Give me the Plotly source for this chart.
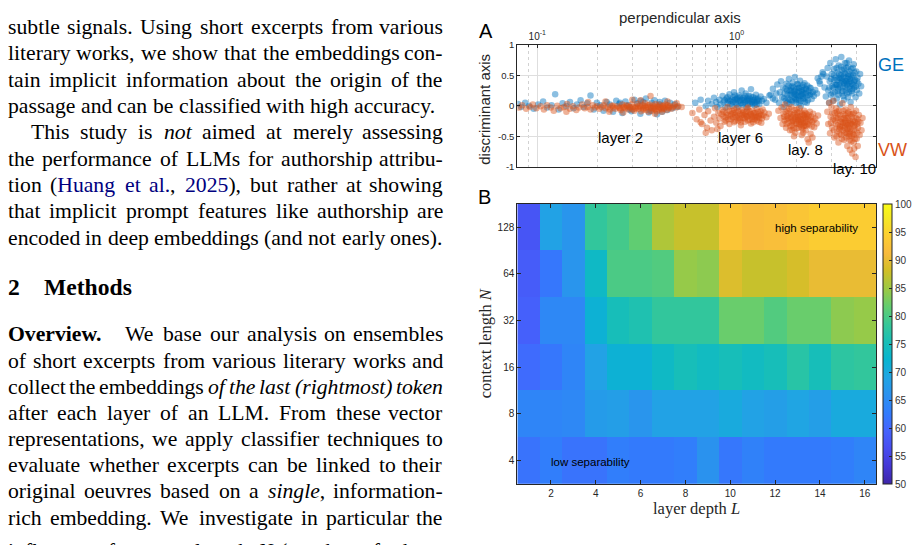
import re
import plotly.graph_objects as go

W, H = 920, 545
OFF = 8  # the page body adds an 8 px margin around the figure

# ---------------------------------------------------------------
# Panel A: last-token embeddings projected on (perpendicular, discriminant)
# axes, GE vs VW excerpts, points as (x, y)
# ---------------------------------------------------------------
ge_layer2 = [
    (0.080, 0.03), (0.083, -0.02), (0.087, 0.05), (0.091, 0.00), (0.096, -0.05), (0.101, 0.02),
    (0.107, 0.07), (0.112, -0.03), (0.118, 0.01), (0.123, 0.19), (0.128, -0.06), (0.134, 0.04),
    (0.140, -0.01), (0.146, 0.06), (0.152, -0.04), (0.158, 0.02), (0.165, 0.09), (0.171, -0.02),
    (0.178, 0.04), (0.185, 0.17), (0.192, -0.06), (0.199, 0.05), (0.207, 0.01), (0.215, -0.08),
    (0.223, 0.06), (0.231, 0.02), (0.240, -0.10), (0.249, 0.08), (0.258, 0.03), (0.267, -0.12),
    (0.277, 0.07), (0.287, 0.01), (0.297, -0.09), (0.307, 0.10), (0.318, 0.04), (0.329, -0.13),
    (0.340, 0.06), (0.351, 0.12), (0.363, -0.11), (0.375, 0.05), (0.387, 0.09), (0.399, -0.14),
    (0.411, 0.06), (0.424, -0.10), (0.437, 0.08), (0.450, -0.07), (0.463, 0.05), (0.477, -0.04),
    (0.490, 0.03), (0.505, -0.02), (0.26, 0.05), (0.33, 0.08), (0.41, 0.02), (0.29, -0.06),
    (0.37, -0.08),
]
vw_layer2 = [
    (0.081, -0.03), (0.084, 0.01), (0.088, -0.05), (0.092, -0.02), (0.095, 0.02), (0.099, -0.04),
    (0.104, -0.01), (0.108, -0.06), (0.112, 0.01), (0.117, -0.03), (0.121, -0.08), (0.126, 0.00),
    (0.131, -0.04), (0.136, -0.02), (0.141, 0.03), (0.146, -0.05), (0.151, -0.01), (0.157, -0.07),
    (0.162, -0.03), (0.168, 0.02), (0.173, -0.04), (0.179, -0.02), (0.185, -0.06), (0.190, 0.01),
    (0.195, -0.03), (0.200, -0.01), (0.205, -0.05), (0.210, -0.02), (0.215, 0.01), (0.220, -0.04),
    (0.226, -0.02), (0.231, -0.06), (0.236, 0.00), (0.241, -0.03), (0.246, -0.05), (0.252, -0.01),
    (0.257, -0.03), (0.262, -0.07), (0.267, 0.02), (0.272, -0.02), (0.277, -0.04), (0.282, -0.01),
    (0.287, -0.06), (0.292, -0.03), (0.297, 0.02), (0.302, -0.02), (0.307, -0.08), (0.312, -0.03),
    (0.317, 0.03), (0.322, -0.05), (0.327, -0.01), (0.332, -0.09), (0.337, 0.01), (0.342, -0.04),
    (0.347, 0.04), (0.352, -0.07), (0.357, -0.02), (0.362, -0.10), (0.367, 0.02), (0.372, -0.04),
    (0.377, -0.08), (0.382, 0.00), (0.387, -0.05), (0.392, 0.03), (0.397, -0.09), (0.402, -0.02),
    (0.407, -0.06), (0.412, 0.02), (0.417, -0.04), (0.422, -0.10), (0.428, 0.00), (0.433, -0.05),
    (0.439, -0.02), (0.445, -0.07), (0.451, 0.01), (0.457, -0.04), (0.463, -0.01), (0.470, -0.05),
    (0.478, -0.02), (0.487, 0.01), (0.497, -0.03), (0.510, -0.01),
    (0.24, 0.00), (0.26, -0.04), (0.28, 0.01), (0.30, -0.06), (0.32, -0.01), (0.34, -0.06),
    (0.36, 0.01), (0.38, -0.04), (0.40, 0.00), (0.42, -0.06), (0.44, 0.02), (0.29, -0.02),
    (0.33, -0.03), (0.37, -0.02), (0.41, -0.03), (0.35, -0.03), (0.39, -0.06), (0.43, -0.03),
    (0.31, -0.05), (0.345, 0.00), (0.385, -0.02), (0.425, -0.01), (0.27, -0.03), (0.455, -0.02),
    (0.37, 0.16), (0.30, 0.10), (0.22, 0.07), (0.45, 0.07), (0.27, -0.11), (0.39, -0.13),
    (0.18, 0.06), (0.14, -0.10), (0.50, 0.04), (0.33, 0.09), (0.53, -0.02), (0.23, -0.10),
]
ge_layer6 = [
    (0.62, 0.05), (0.66, 0.10), (0.70, -0.01), (0.72, 0.08), (0.75, 0.03), (0.77, 0.13),
    (0.79, 0.06), (0.80, -0.02), (0.82, 0.10), (0.83, 0.02), (0.85, 0.16), (0.86, 0.06),
    (0.88, -0.03), (0.89, 0.12), (0.90, 0.04), (0.92, 0.19), (0.93, 0.08), (0.95, 0.00),
    (0.96, 0.14), (0.97, 0.22), (0.99, 0.05), (1.00, 0.11), (1.02, -0.02), (1.03, 0.17),
    (1.04, 0.08), (1.06, 0.25), (1.07, 0.02), (1.08, 0.13), (1.10, 0.06), (1.11, 0.20),
    (1.12, -0.03), (1.14, 0.10), (1.15, 0.16), (1.17, 0.04), (1.18, 0.27), (1.20, 0.09),
    (1.21, 0.14), (1.23, 0.01), (1.25, 0.18), (1.26, 0.07), (1.28, 0.12), (1.30, 0.03),
    (1.32, 0.15), (1.34, 0.08), (1.37, 0.11), (1.41, 0.05), (1.46, 0.17), (1.52, 0.12),
    (1.58, 0.20), (0.98, 0.10), (1.05, 0.04), (1.13, 0.12), (0.91, 0.09), (1.19, 0.06),
    (1.27, 0.10),
    (0.87, 0.09), (0.90, 0.14), (0.93, 0.03), (0.95, 0.10), (0.98, 0.17), (1.00, 0.02),
    (1.02, 0.08), (1.04, 0.14), (1.06, 0.10), (1.08, 0.04), (1.10, 0.16), (1.12, 0.08),
    (1.14, 0.02), (1.16, 0.12), (1.18, 0.15), (1.20, 0.03), (1.22, 0.09), (1.24, 0.12),
    (1.26, 0.02), (1.29, 0.08), (0.96, 0.06), (1.01, 0.13), (1.09, 0.10), (1.15, 0.07),
    (1.23, 0.05),
]
vw_layer6 = [
    (0.60, -0.12), (0.63, -0.22), (0.65, -0.06), (0.67, -0.30), (0.69, -0.15), (0.71, -0.36),
    (0.72, -0.09), (0.74, -0.24), (0.75, -0.40), (0.77, -0.18), (0.78, -0.04), (0.79, -0.28),
    (0.81, -0.12), (0.82, -0.21), (0.83, -0.33), (0.85, -0.07), (0.86, -0.17), (0.87, -0.26),
    (0.89, -0.12), (0.90, -0.02), (0.91, -0.22), (0.92, -0.30), (0.94, -0.14), (0.95, -0.08),
    (0.96, -0.19), (0.97, -0.27), (0.99, -0.11), (1.00, -0.04), (1.01, -0.16), (1.02, -0.24),
    (1.04, -0.13), (1.05, -0.32), (1.06, -0.07), (1.08, -0.20), (1.09, -0.15), (1.10, -0.26),
    (1.12, -0.10), (1.13, -0.18), (1.14, -0.03), (1.16, -0.23), (1.17, -0.13), (1.18, -0.29),
    (1.20, -0.08), (1.21, -0.17), (1.23, -0.22), (1.24, -0.12), (1.26, -0.05), (1.27, -0.19),
    (1.29, -0.26), (1.30, -0.14), (1.32, -0.09), (1.34, -0.21), (1.36, -0.16), (1.38, -0.11),
    (1.41, -0.19), (1.45, -0.13), (0.93, -0.17), (1.03, -0.20), (1.11, -0.14), (1.19, -0.18),
    (0.88, -0.19), (0.98, -0.15), (1.07, -0.12), (1.15, -0.16), (1.25, -0.16), (0.84, -0.14),
    (0.70, -0.44), (0.80, -0.38), (0.66, -0.27), (1.33, -0.28),
    (0.86, -0.10), (0.88, -0.24), (0.90, -0.15), (0.92, -0.08), (0.94, -0.22), (0.96, -0.12),
    (0.98, -0.25), (1.00, -0.19), (1.02, -0.09), (1.04, -0.22), (1.06, -0.16), (1.08, -0.10),
    (1.10, -0.21), (1.12, -0.17), (1.14, -0.24), (1.16, -0.09), (1.18, -0.14), (1.20, -0.22),
    (1.22, -0.12), (1.24, -0.19), (1.26, -0.24), (1.28, -0.10), (1.30, -0.20), (1.33, -0.15),
    (1.35, -0.06), (0.97, -0.06), (1.05, -0.27), (1.13, -0.05), (1.21, -0.27), (1.29, -0.17),
]
ge_layer8 = [
    (1.48, 0.18), (1.52, 0.28), (1.56, 0.10), (1.60, 0.35), (1.63, 0.05), (1.65, 0.22),
    (1.67, 0.40), (1.69, 0.14), (1.71, 0.30), (1.72, -0.02), (1.74, 0.20), (1.76, 0.08),
    (1.78, 0.36), (1.79, 0.25), (1.81, 0.12), (1.83, 0.44), (1.84, 0.03), (1.86, 0.18),
    (1.88, 0.30), (1.89, 0.09), (1.91, 0.38), (1.93, 0.22), (1.94, 0.14), (1.96, 0.47),
    (1.98, 0.05), (1.99, 0.27), (2.01, 0.17), (2.03, 0.35), (2.05, 0.10), (2.06, 0.24),
    (2.08, 0.41), (2.10, 0.00), (2.11, 0.19), (2.13, 0.31), (2.15, 0.12), (2.17, 0.26),
    (2.19, 0.37), (2.20, 0.06), (2.22, 0.21), (2.24, 0.15), (2.26, 0.33), (2.28, 0.09),
    (2.30, 0.24), (2.33, 0.18), (2.35, 0.29), (2.38, 0.11), (2.41, 0.22), (2.44, 0.16),
    (2.48, 0.26), (2.53, 0.20), (2.60, 0.40), (2.66, 0.48), (2.72, 0.52), (1.87, 0.24),
    (1.95, 0.19), (2.02, 0.22), (2.09, 0.16), (2.16, 0.20), (1.80, 0.18), (2.23, 0.27),
    (1.90, 0.32), (2.12, 0.25), (1.97, 0.12), (2.04, 0.29),
    (1.73, 0.12), (1.76, 0.28), (1.79, 0.05), (1.82, 0.33), (1.85, 0.10), (1.88, 0.20),
    (1.91, 0.07), (1.93, 0.30), (1.96, 0.24), (1.99, 0.10), (2.01, 0.36), (2.04, 0.14),
    (2.07, 0.30), (2.10, 0.08), (2.13, 0.22), (2.16, 0.34), (2.19, 0.12), (2.22, 0.28),
    (2.25, 0.05), (2.28, 0.18), (2.32, 0.30), (2.36, 0.20), (1.84, 0.26), (1.98, 0.18),
    (2.14, 0.16), (2.06, 0.04),
]
vw_layer8 = [
    (1.62, -0.08), (1.66, -0.20), (1.68, -0.03), (1.70, -0.30), (1.72, -0.13), (1.74, -0.24),
    (1.75, 0.02), (1.77, -0.36), (1.79, -0.17), (1.80, -0.08), (1.82, -0.28), (1.84, -0.12),
    (1.85, -0.40), (1.87, -0.21), (1.88, -0.02), (1.90, -0.32), (1.92, -0.15), (1.93, -0.25),
    (1.95, -0.07), (1.97, -0.44), (1.98, -0.19), (2.00, -0.30), (2.02, -0.11), (2.03, -0.23),
    (2.05, -0.36), (2.07, -0.04), (2.08, -0.17), (2.10, -0.27), (2.12, -0.48), (2.13, -0.13),
    (2.15, -0.22), (2.17, -0.33), (2.18, -0.08), (2.20, -0.19), (2.22, -0.40), (2.24, -0.26),
    (2.25, -0.14), (2.27, -0.55), (2.29, -0.21), (2.31, -0.31), (2.33, -0.10), (2.35, -0.46),
    (2.37, -0.18), (2.39, -0.26), (2.42, -0.13), (2.45, -0.35), (2.48, -0.21), (2.52, -0.29),
    (2.56, -0.16), (2.30, -0.60), (2.40, -0.52), (1.94, -0.50), (1.86, -0.18), (1.96, -0.22),
    (2.04, -0.20), (2.11, -0.24), (2.19, -0.28), (2.26, -0.18), (1.89, -0.26), (2.01, -0.16),
    (2.09, -0.31), (2.16, -0.15), (2.23, -0.33), (1.78, -0.22), (2.06, -0.26), (2.14, -0.38),
    (1.99, -0.37), (2.21, -0.12),
    (1.73, -0.18), (1.76, -0.10), (1.78, -0.30), (1.81, -0.20), (1.83, -0.05), (1.86, -0.33),
    (1.88, -0.14), (1.91, -0.24), (1.93, -0.36), (1.95, -0.12), (1.98, -0.28), (2.00, -0.06),
    (2.02, -0.18), (2.05, -0.30), (2.08, -0.10), (2.10, -0.22), (2.12, -0.35), (2.15, -0.28),
    (2.18, -0.16), (2.20, -0.32), (2.23, -0.22), (2.27, -0.30), (2.30, -0.16), (2.34, -0.24),
    (2.38, -0.34), (2.43, -0.24), (1.90, -0.40), (2.16, -0.44),
]
ge_layer10 = [
    (2.55, 0.45), (2.62, 0.36), (2.70, 0.55), (2.76, 0.30), (2.80, 0.15), (2.83, 0.48),
    (2.86, 0.62), (2.88, 0.25), (2.91, 0.05), (2.93, 0.40), (2.95, 0.70), (2.97, 0.18),
    (3.00, 0.52), (3.02, 0.32), (3.04, 0.08), (3.07, 0.60), (3.09, 0.42), (3.11, 0.22),
    (3.14, 0.76), (3.16, 0.35), (3.18, 0.12), (3.21, 0.55), (3.23, 0.28), (3.25, 0.66),
    (3.28, 0.45), (3.30, 0.02), (3.32, 0.38), (3.35, 0.80), (3.37, 0.20), (3.39, 0.58),
    (3.42, 0.30), (3.44, 0.48), (3.46, 0.10), (3.49, 0.70), (3.51, 0.40), (3.53, 0.25),
    (3.56, 0.62), (3.58, 0.34), (3.61, 0.14), (3.63, 0.52), (3.66, 0.74), (3.68, 0.28),
    (3.71, 0.44), (3.73, 0.06), (3.76, 0.60), (3.78, 0.36), (3.81, 0.20), (3.84, 0.50),
    (3.86, 0.68), (3.89, 0.30), (3.92, 0.42), (3.95, 0.14), (3.98, 0.56), (4.01, 0.26),
    (4.04, 0.46), (4.08, 0.36), (4.12, 0.20), (4.16, 0.52), (4.21, 0.32), (3.20, 0.42),
    (3.33, 0.50), (3.47, 0.36), (3.60, 0.44), (3.74, 0.50), (3.27, 0.34), (3.40, 0.24),
    (3.54, 0.46), (3.67, 0.38), (3.80, 0.28), (3.13, 0.46), (3.45, 0.60), (3.62, 0.64),
    (3.06, 0.30), (3.88, 0.40), (3.50, 0.52), (3.36, 0.44), (3.70, 0.32), (3.24, 0.18),
    (3.57, 0.20), (3.83, 0.62),
    (2.92, 0.30), (2.98, 0.44), (3.03, 0.20), (3.08, 0.50), (3.12, 0.34), (3.17, 0.62),
    (3.22, 0.24), (3.26, 0.52), (3.30, 0.30), (3.34, 0.64), (3.38, 0.40), (3.43, 0.16),
    (3.47, 0.54), (3.52, 0.30), (3.56, 0.70), (3.60, 0.36), (3.65, 0.22), (3.69, 0.56),
    (3.74, 0.40), (3.79, 0.46), (3.84, 0.34), (3.90, 0.54), (3.96, 0.32), (4.02, 0.40),
    (3.31, 0.46), (3.55, 0.40), (3.44, 0.38), (3.64, 0.48), (3.19, 0.34), (3.77, 0.24),
]
vw_layer10 = [
    (2.85, -0.10), (2.88, -0.30), (2.91, 0.05), (2.94, -0.45), (2.96, -0.18), (2.99, -0.02),
    (3.01, -0.36), (3.04, -0.22), (3.06, 0.08), (3.09, -0.52), (3.11, -0.12), (3.14, -0.30),
    (3.16, -0.04), (3.19, -0.42), (3.21, -0.20), (3.24, -0.60), (3.26, -0.08), (3.29, -0.34),
    (3.31, -0.16), (3.34, -0.48), (3.36, -0.26), (3.39, 0.04), (3.41, -0.40), (3.44, -0.14),
    (3.46, -0.56), (3.49, -0.28), (3.51, -0.06), (3.54, -0.44), (3.56, -0.20), (3.59, -0.66),
    (3.61, -0.32), (3.64, -0.10), (3.66, -0.50), (3.69, -0.24), (3.71, -0.38), (3.74, -0.02),
    (3.76, -0.58), (3.79, -0.18), (3.81, -0.30), (3.84, -0.46), (3.86, -0.12), (3.89, -0.70),
    (3.91, -0.26), (3.94, -0.40), (3.97, -0.08), (4.00, -0.54), (4.03, -0.22), (4.06, -0.36),
    (4.10, -0.15), (4.14, -0.48), (4.18, -0.28), (4.23, -0.40), (4.28, -0.20), (3.95, -0.84),
    (3.80, -0.78), (3.70, -0.72), (4.05, -0.66), (3.22, -0.32), (3.35, -0.22), (3.48, -0.36),
    (3.62, -0.20), (3.75, -0.28), (3.88, -0.34), (3.28, -0.46), (3.42, -0.28), (3.55, -0.30),
    (3.68, -0.42), (3.83, -0.24), (3.15, -0.20), (3.52, -0.16), (3.65, -0.36), (3.78, -0.50),
    (3.92, -0.54), (3.38, -0.34), (3.58, -0.46), (3.72, -0.14), (3.18, -0.10), (4.02, -0.30),
    (2.97, -0.28), (3.02, -0.12), (3.07, -0.40), (3.12, -0.24), (3.17, -0.50), (3.22, -0.14),
    (3.27, -0.38), (3.32, -0.26), (3.37, -0.54), (3.42, -0.08), (3.46, -0.44), (3.51, -0.24),
    (3.55, -0.52), (3.60, -0.38), (3.64, -0.28), (3.69, -0.56), (3.73, -0.30), (3.78, -0.40),
    (3.82, -0.14), (3.87, -0.48), (3.92, -0.32), (3.97, -0.20), (4.03, -0.44), (4.08, -0.26),
    (3.30, -0.36), (3.50, -0.34), (3.70, -0.46), (3.45, -0.20), (3.62, -0.12), (3.85, -0.60),
]
perp_major = [0.1, 1]
perp_minor = [0.08, 0.09, 0.2, 0.3, 0.4, 0.5, 0.6, 0.7, 0.8, 0.9, 2, 3, 4]
disc_ticks = [-1, -0.5, 0, 0.5, 1]

# ---------------------------------------------------------------
# Panel B: separability (classification accuracy, %) per layer / context
# ---------------------------------------------------------------
layer_depth = list(range(1, 17))
context_length = ["4", "8", "16", "32", "64", "128"]
accuracy = [
    [61.5, 63.0, 61.5, 61.5, 63.0, 62.5, 62.5, 63.0, 66.0, 62.0, 63.5, 62.5, 62.5, 62.5, 63.0, 64.0],
    [64.0, 64.0, 64.5, 67.5, 68.0, 66.5, 68.5, 68.5, 68.5, 70.0, 68.5, 68.0, 69.0, 68.0, 70.0, 70.0],
    [60.5, 62.0, 64.0, 68.5, 71.5, 71.5, 73.5, 75.0, 74.0, 75.0, 74.0, 75.0, 77.0, 75.0, 77.5, 78.0],
    [59.0, 64.5, 64.5, 71.5, 75.0, 76.0, 78.0, 78.0, 78.0, 82.0, 82.0, 80.5, 82.0, 82.0, 84.0, 84.5],
    [58.5, 62.0, 66.5, 73.5, 80.0, 80.0, 80.5, 84.5, 84.0, 89.0, 87.5, 87.5, 88.5, 90.0, 90.0, 90.0],
    [57.5, 68.5, 66.5, 78.0, 79.5, 81.5, 86.0, 87.5, 87.5, 93.0, 91.5, 92.0, 93.0, 94.0, 94.0, 94.0],
]
acc_ticks = list(range(50, 101, 5))

# page text next to the figure (*italic*, #bold#, {citation})
page_lines = [
    # (y centre, left x, justified, text)
    (21.0, 6.7, True, "subtle signals. Using short excerpts from various"),
    (48.0, 6.7, True, "literary works, we show that the embeddings con-"),
    (75.0, 6.7, True, "tain implicit information about the origin of the"),
    (101.9, 6.7, False, "passage and can be classified with high accuracy."),
    (128.8, 30.0, True, "This study is *not* aimed at merely assessing"),
    (155.7, 6.7, True, "the performance of LLMs for authorship attribu-"),
    (182.6, 6.7, True, "tion ({Huang} {et} {al.}, {2025}), but rather at showing"),
    (209.5, 6.7, True, "that implicit prompt features like authorship are"),
    (236.6, 6.7, False, "encoded in deep embeddings (and not early ones)."),
    (335.0, 6.7, False, "#Overview.#"),
    (335.0, 124.0, True, "We base our analysis on ensembles"),
    (361.7, 6.7, True, "of short excerpts from various literary works and"),
    (388.4, 6.7, True, "collect the embeddings *of* *the* *last* *(rightmost)* *token*"),
    (415.1, 6.7, True, "after each layer of an LLM. From these vector"),
    (441.8, 6.7, True, "representations, we apply classifier techniques to"),
    (468.5, 6.7, True, "evaluate whether excerpts can be linked to their"),
    (495.2, 6.7, True, "original oeuvres based on a *single*, information-"),
    (521.9, 6.7, True, "rich embedding. We investigate in particular the"),
    (556.0, 6.7, True, "influence of context length *N* (number of tokens"),
]
TEXT_RIGHT = 443.5
TEXT_SIZE = 21.7

GE_COLOR = "#0072BD"
VW_COLOR = "#D95319"
AX = "#262626"

# MATLAB parula, every 4th entry of the 64-colour table
PARULA = [
    [0.000, "rgb(62,38,168)"], [0.063, "rgb(69,55,213)"], [0.127, "rgb(72,77,240)"],
    [0.190, "rgb(69,99,253)"], [0.254, "rgb(50,124,252)"], [0.317, "rgb(43,145,239)"],
    [0.381, "rgb(32,165,227)"], [0.444, "rgb(8,181,208)"], [0.508, "rgb(25,191,182)"],
    [0.571, "rgb(55,200,151)"], [0.635, "rgb(100,205,111)"], [0.698, "rgb(157,201,67)"],
    [0.762, "rgb(209,191,39)"], [0.825, "rgb(248,186,61)"], [0.889, "rgb(252,207,48)"],
    [0.952, "rgb(245,233,36)"], [1.000, "rgb(249,251,21)"],
]

# Times (Liberation Serif) advance widths, 1/1000 em
def _widths(groups):
    out = {}
    for w, chars in groups:
        for ch in chars:
            out[ch] = w
    return out


ROMAN = _widths([(250, " ,."), (278, "ijlt:;/"), (333, "fr()-I[]'"), (389, "sJ"),
                 (444, "acez?"), (500, "bdghknopquvxy0123456789"), (556, "FPS"),
                 (611, "ETLZ"), (667, "BCR"), (722, "wADGHKNOQUVXY"), (778, "m"),
                 (889, "M"), (944, "W")])
ITALIC = _widths([(250, " ,."), (278, "fijlt"), (333, "()-"), (389, "rsz"),
                  (444, "ceksvxy"), (500, "abdghnopqu"), (667, "wN"), (722, "m")])
BOLD = _widths([(250, " ,."), (278, "i"), (333, "t"), (389, "s"), (444, "er"),
                (500, "vo"), (556, "hd"), (722, "w"), (778, "O"), (944, "M")])


def px(x):
    return (x - OFF) / W


def py(y):
    return 1 - (y - OFF) / H


fig = go.Figure()

clusters = [
    (ge_layer2, vw_layer2), (ge_layer6, vw_layer6),
    (ge_layer8, vw_layer8), (ge_layer10, vw_layer10),
]
for ge, vw in clusters:
    for pts, col in ((ge, GE_COLOR), (vw, VW_COLOR)):
        fig.add_trace(
            go.Scatter(
                x=[p[0] for p in pts],
                y=[p[1] for p in pts],
                mode="markers",
                marker=dict(size=6.5, color=col, opacity=0.45, line=dict(width=0)),
                xaxis="x",
                yaxis="y",
                hoverinfo="skip",
            )
        )

fig.add_trace(
    go.Heatmap(
        x=layer_depth,
        y=context_length,
        z=accuracy,
        xaxis="x2",
        yaxis="y2",
        zmin=50,
        zmax=100,
        colorscale=PARULA,
        colorbar=dict(
            x=px(883.3), xanchor="left", y=py(487.7), yanchor="bottom",
            len=286 / H, lenmode="fraction", thickness=9, thicknessmode="pixels",
            xpad=0, ypad=0, outlinewidth=1, outlinecolor=AX,
            tickvals=acc_ticks, ticks="inside", ticklen=3, tickcolor=AX,
            tickfont=dict(family="Liberation Sans", size=10, color="#333333"),
        ),
        hoverinfo="skip",
    )
)

dom_x = [px(517.3), px(876)]
fig.update_layout(
    width=W,
    height=H,
    margin=dict(l=0, r=0, t=0, b=0),
    paper_bgcolor="white",
    plot_bgcolor="white",
    showlegend=False,
    hovermode=False,
    font=dict(family="Liberation Sans", color=AX),
    xaxis=dict(
        domain=dom_x, anchor="y", type="log", side="top",
        range=[-1.1, 0.699],
        tickmode="array", tickvals=perp_major,
        ticktext=["10<sup>-1</sup>", "10<sup>0</sup>"],
        ticks="inside", ticklen=3, tickcolor=AX,
        tickfont=dict(size=10, color=AX),
        showgrid=True, gridcolor="#DEDEDE", gridwidth=1,
        minor=dict(tickmode="array", tickvals=perp_minor, showgrid=True,
                   gridcolor="#D2D2D2", griddash="dot", gridwidth=1,
                   ticks="inside", ticklen=2, tickcolor=AX),
        showline=True, linecolor=AX, linewidth=1, mirror=True, zeroline=False,
    ),
    yaxis=dict(
        domain=[py(164), py(39.3)], anchor="x", range=[-1, 1],
        tickmode="array", tickvals=disc_ticks,
        ticktext=["-1", "-0.5", "0", "0.5", "1"],
        ticks="inside", ticklen=3, tickcolor=AX,
        tickfont=dict(size=9.5, color=AX),
        showgrid=True, gridcolor="#DEDEDE", zeroline=False,
        showline=True, linecolor=AX, linewidth=1, mirror="ticks",
    ),
    xaxis2=dict(
        domain=dom_x, anchor="y2", range=[0.5, 16.5],
        tickmode="array", tickvals=layer_depth[1::2],
        ticks="inside", ticklen=4, tickcolor=AX,
        tickfont=dict(size=10, color=AX),
        showgrid=False, zeroline=False,
        showline=True, linecolor=AX, linewidth=1, mirror="ticks",
    ),
    yaxis2=dict(
        domain=[py(487.7), py(201.7)], anchor="x2", type="category",
        categoryorder="array", categoryarray=context_length,
        ticks="inside", ticklen=4, tickcolor=AX,
        tickfont=dict(size=10, color=AX),
        showgrid=False, zeroline=False,
        showline=True, linecolor=AX, linewidth=1, mirror="ticks",
    ),
)

ann = []


def note(x, y, text, anchor="left", size=TEXT_SIZE, family="Liberation Serif",
         color="black", angle=0):
    ann.append(dict(
        x=px(x), y=py(y), xref="paper", yref="paper", text=text,
        showarrow=False, xanchor=anchor, yanchor="middle", textangle=angle,
        borderpad=0, font=dict(family=family, size=size, color=color),
    ))


def word_width(tok, size):
    table = ITALIC if "*" in tok else BOLD if "#" in tok else ROMAN
    plain = re.sub(r"[*#{}]", "", tok)
    return sum(table.get(ch, ROMAN.get(ch, 500)) for ch in plain) * size / 1000


def word_html(tok):
    tok = re.sub(r"\*(.+?)\*", r"<i>\1</i>", tok)
    tok = re.sub(r"#(.+?)#", r"<b>\1</b>", tok)
    return re.sub(r"\{(.+?)\}", r"<span style='color:#000080'>\1</span>", tok)


# body text, typeset word by word so that the lines stay justified
for y, x0, justified, line in page_lines:
    words = line.split(" ")
    widths = [word_width(w, TEXT_SIZE) for w in words]
    if justified and len(words) > 1:
        gap = (TEXT_RIGHT - x0 - sum(widths)) / (len(words) - 1)
    else:
        gap = 0.25 * TEXT_SIZE
    x = x0
    for i, (w, wd) in enumerate(zip(words, widths)):
        if justified and i == len(words) - 1 and i > 0:
            note(TEXT_RIGHT, y, word_html(w), anchor="right")
        else:
            note(x, y, word_html(w))
        x += wd + gap

note(6.7, 287, "<b>2</b>", size=23.6)
note(42.7, 287, "<b>Methods</b>", size=23.6)

# panel A decorations
sans = "Liberation Sans"
note(486, 25, "A", anchor="center", size=20, family=sans)
note(680, 12, "perpendicular axis", anchor="center", size=15, family=sans, color=AX)
note(485, 104.7, "discriminant axis", anchor="center", size=15, family=sans,
     color=AX, angle=-90)
note(620, 134, "layer 2", anchor="center", size=15, family=sans)
note(740, 134, "layer 6", anchor="center", size=15, family=sans)
note(805.5, 146.5, "lay. 8", anchor="center", size=15, family=sans)
note(854, 165.5, "lay. 10", anchor="center", size=15, family=sans)
note(877, 60, "GE", size=18, family=sans, color=GE_COLOR)
note(877, 146.5, "VW", size=18, family=sans, color=VW_COLOR)

# panel B decorations
note(485, 195, "B", anchor="center", size=20, family=sans)
note(816.7, 226, "high separability", anchor="center", size=11.5, family=sans)
note(590, 465, "low separability", anchor="center", size=11.5, family=sans)
note(696.7, 513, "layer depth <i>L</i>", anchor="center", size=16.5, color=AX)
note(485, 344, "context length <i>N</i>", anchor="center", size=16.5,
     color=AX, angle=-90)

fig.update_layout(annotations=ann)

fig.write_html("out.html")
